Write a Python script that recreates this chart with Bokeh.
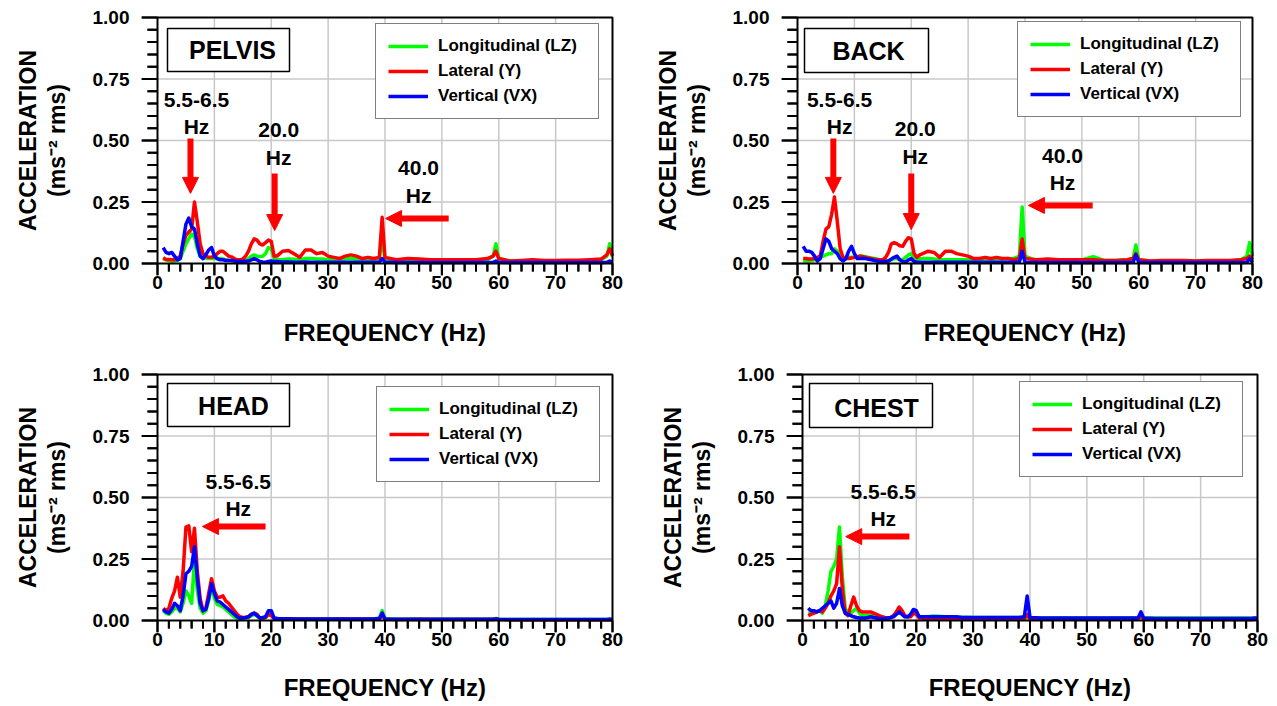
from bokeh.plotting import figure
from bokeh.models import (Range1d, SingleIntervalTicker, PrintfTickFormatter, Legend,
                          LegendItem, Label, BoxAnnotation, Arrow, NormalHead)
from bokeh.layouts import column, row
from bokeh.embed import file_html
from bokeh.resources import INLINE

FONT = "Liberation Sans"

# ---------------- data (frequency in Hz, acceleration in m/s^2 rms) ----------------
freq = [1.0, 1.5, 2.0, 2.5, 3.0, 3.5, 4.0, 4.5, 5.0, 5.5,
        6.0, 6.5, 7.0, 7.5, 8.0, 8.5, 9.0, 9.5, 10.0, 10.5,
        11.0, 11.5, 12.0, 12.5, 13.0, 13.5, 14.0, 14.5, 15.0, 15.5,
        16.0, 16.5, 17.0, 17.5, 18.0, 18.5, 19.0, 19.5, 20.0, 20.5,
        21.0, 21.5, 22.0,
        23, 24, 25, 26, 27, 28, 29, 30, 31, 32, 33, 34, 35, 36, 37, 38,
        39, 39.5, 40,
        42, 44, 46, 48, 50, 52, 54, 56, 58,
        59, 59.5, 60,
        62, 64, 66, 68, 70, 72, 74, 76, 78,
        79, 79.5, 80]

pelvis_lz = [0.020, 0.015, 0.012, 0.010, 0.010, 0.012, 0.020, 0.050, 0.080, 0.100,
             0.120, 0.110, 0.060, 0.030, 0.025, 0.022, 0.020, 0.020, 0.020, 0.020,
             0.020, 0.018, 0.015, 0.013, 0.012, 0.011, 0.010, 0.010, 0.010, 0.012,
             0.020, 0.030, 0.035, 0.030, 0.028, 0.030, 0.040, 0.065, 0.060, 0.020,
             0.015, 0.015, 0.015,
             0.018, 0.017, 0.015, 0.020, 0.020, 0.018, 0.018, 0.015, 0.015, 0.015, 0.018, 0.020, 0.018, 0.015, 0.015, 0.015,
             0.020, 0.100, 0.020,
             0.010, 0.010, 0.010, 0.010, 0.010, 0.010, 0.010, 0.010, 0.015,
             0.030, 0.080, 0.020,
             0.010, 0.010, 0.010, 0.010, 0.010, 0.010, 0.010, 0.010, 0.015,
             0.030, 0.080, 0.030]
pelvis_y = [0.023, 0.016, 0.016, 0.015, 0.015, 0.020, 0.030, 0.080, 0.114, 0.128,
            0.140, 0.250, 0.170, 0.080, 0.040, 0.030, 0.025, 0.025, 0.030, 0.040,
            0.050, 0.050, 0.040, 0.030, 0.027, 0.020, 0.015, 0.015, 0.018, 0.030,
            0.050, 0.080, 0.100, 0.095, 0.080, 0.075, 0.085, 0.095, 0.090, 0.030,
            0.030, 0.040, 0.050,
            0.053, 0.040, 0.025, 0.055, 0.055, 0.040, 0.045, 0.030, 0.025, 0.020, 0.030, 0.035, 0.030, 0.020, 0.025, 0.020,
            0.025, 0.188, 0.025,
            0.015, 0.020, 0.018, 0.015, 0.015, 0.015, 0.015, 0.015, 0.020,
            0.030, 0.050, 0.020,
            0.010, 0.012, 0.015, 0.012, 0.012, 0.013, 0.013, 0.015, 0.018,
            0.035, 0.060, 0.030]
pelvis_vx = [0.065, 0.045, 0.040, 0.045, 0.030, 0.015, 0.020, 0.090, 0.160, 0.185,
             0.150, 0.140, 0.080, 0.030, 0.020, 0.035, 0.055, 0.065, 0.030, 0.020,
             0.015, 0.015, 0.012, 0.012, 0.012, 0.010, 0.008, 0.008, 0.008, 0.009,
             0.010, 0.015, 0.020, 0.015, 0.008, 0.006, 0.005, 0.008, 0.010, 0.008,
             0.008, 0.007, 0.006,
             0.006, 0.005, 0.005, 0.006, 0.005, 0.005, 0.005, 0.005, 0.005, 0.005, 0.005, 0.005, 0.005, 0.005, 0.005, 0.005,
             0.006, 0.020, 0.006,
             0.004, 0.004, 0.004, 0.004, 0.004, 0.004, 0.004, 0.004, 0.004,
             0.005, 0.010, 0.005,
             0.004, 0.004, 0.004, 0.004, 0.004, 0.004, 0.004, 0.004, 0.004,
             0.005, 0.010, 0.005]

back_lz = [0.010, 0.010, 0.010, 0.012, 0.015, 0.020, 0.025, 0.030, 0.035, 0.040,
           0.040, 0.060, 0.050, 0.020, 0.015, 0.020, 0.025, 0.025, 0.025, 0.028,
           0.030, 0.030, 0.028, 0.025, 0.022, 0.020, 0.018, 0.015, 0.012, 0.012,
           0.012, 0.015, 0.020, 0.020, 0.015, 0.015, 0.025, 0.035, 0.040, 0.020,
           0.015, 0.018, 0.020,
           0.020, 0.018, 0.015, 0.015, 0.015, 0.015, 0.015, 0.015, 0.015, 0.015, 0.015, 0.015, 0.018, 0.018, 0.020, 0.020,
           0.030, 0.230, 0.030,
           0.012, 0.012, 0.012, 0.012, 0.015, 0.028, 0.012, 0.012, 0.015,
           0.020, 0.075, 0.015,
           0.010, 0.010, 0.010, 0.010, 0.010, 0.010, 0.010, 0.010, 0.015,
           0.030, 0.085, 0.030]
back_y = [0.020, 0.020, 0.018, 0.018, 0.020, 0.025, 0.030, 0.090, 0.140, 0.150,
          0.200, 0.270, 0.170, 0.060, 0.025, 0.020, 0.020, 0.022, 0.025, 0.028,
          0.030, 0.028, 0.025, 0.022, 0.020, 0.017, 0.015, 0.015, 0.015, 0.025,
          0.045, 0.080, 0.085, 0.080, 0.072, 0.070, 0.090, 0.105, 0.100, 0.040,
          0.025, 0.035, 0.040,
          0.050, 0.045, 0.025, 0.050, 0.050, 0.040, 0.035, 0.030, 0.020, 0.020, 0.025, 0.020, 0.025, 0.020, 0.020, 0.015,
          0.020, 0.100, 0.020,
          0.015, 0.018, 0.015, 0.015, 0.015, 0.015, 0.012, 0.012, 0.015,
          0.020, 0.040, 0.015,
          0.010, 0.012, 0.012, 0.012, 0.010, 0.012, 0.012, 0.012, 0.015,
          0.020, 0.030, 0.015]
back_vx = [0.070, 0.050, 0.050, 0.045, 0.030, 0.010, 0.020, 0.060, 0.100, 0.090,
           0.060, 0.050, 0.040, 0.020, 0.010, 0.020, 0.050, 0.070, 0.040, 0.020,
           0.020, 0.020, 0.020, 0.017, 0.015, 0.012, 0.010, 0.008, 0.008, 0.008,
           0.010, 0.018, 0.025, 0.030, 0.015, 0.008, 0.005, 0.015, 0.020, 0.008,
           0.005, 0.005, 0.005,
           0.005, 0.005, 0.005, 0.005, 0.005, 0.005, 0.005, 0.005, 0.005, 0.005, 0.005, 0.005, 0.005, 0.005, 0.005, 0.005,
           0.005, 0.050, 0.005,
           0.004, 0.004, 0.004, 0.004, 0.004, 0.004, 0.004, 0.004, 0.004,
           0.005, 0.035, 0.005,
           0.004, 0.004, 0.004, 0.004, 0.004, 0.004, 0.004, 0.004, 0.004,
           0.005, 0.020, 0.005]

head_lz = [0.040, 0.030, 0.025, 0.035, 0.050, 0.050, 0.035, 0.070, 0.120, 0.100,
           0.070, 0.250, 0.120, 0.050, 0.030, 0.040, 0.080, 0.140, 0.090, 0.065,
           0.060, 0.055, 0.045, 0.035, 0.025, 0.015, 0.010, 0.008, 0.008, 0.010,
           0.012, 0.020, 0.025, 0.018, 0.008, 0.010, 0.012, 0.030, 0.030, 0.008,
           0.007, 0.006, 0.006,
           0.007, 0.006, 0.006, 0.006, 0.006, 0.006, 0.006, 0.006, 0.006, 0.006, 0.006, 0.006, 0.006, 0.006, 0.006, 0.006,
           0.010, 0.040, 0.008,
           0.005, 0.005, 0.005, 0.005, 0.005, 0.005, 0.005, 0.005, 0.005,
           0.005, 0.008, 0.005,
           0.004, 0.004, 0.004, 0.004, 0.004, 0.004, 0.004, 0.004, 0.004,
           0.004, 0.005, 0.004]
head_y = [0.050, 0.040, 0.050, 0.090, 0.120, 0.176, 0.095, 0.200, 0.380, 0.385,
          0.280, 0.375, 0.200, 0.090, 0.040, 0.050, 0.110, 0.170, 0.120, 0.095,
          0.095, 0.100, 0.080, 0.070, 0.055, 0.040, 0.025, 0.015, 0.012, 0.013,
          0.015, 0.025, 0.030, 0.025, 0.010, 0.010, 0.012, 0.025, 0.020, 0.008,
          0.008, 0.007, 0.007,
          0.006, 0.006, 0.005, 0.005, 0.005, 0.005, 0.005, 0.005, 0.005, 0.006, 0.005, 0.005, 0.006, 0.005, 0.005, 0.005,
          0.006, 0.020, 0.005,
          0.004, 0.004, 0.005, 0.004, 0.004, 0.004, 0.004, 0.004, 0.004,
          0.004, 0.006, 0.004,
          0.003, 0.003, 0.003, 0.003, 0.003, 0.003, 0.003, 0.003, 0.003,
          0.003, 0.004, 0.003]
head_vx = [0.045, 0.035, 0.030, 0.045, 0.070, 0.060, 0.040, 0.100, 0.190, 0.200,
           0.220, 0.300, 0.170, 0.070, 0.040, 0.045, 0.090, 0.150, 0.110, 0.080,
           0.075, 0.065, 0.055, 0.045, 0.035, 0.025, 0.015, 0.010, 0.010, 0.012,
           0.015, 0.025, 0.030, 0.020, 0.010, 0.012, 0.015, 0.040, 0.040, 0.010,
           0.008, 0.007, 0.007,
           0.007, 0.006, 0.006, 0.006, 0.006, 0.006, 0.006, 0.006, 0.006, 0.006, 0.006, 0.006, 0.006, 0.006, 0.006, 0.006,
           0.008, 0.030, 0.006,
           0.005, 0.005, 0.005, 0.005, 0.005, 0.005, 0.005, 0.005, 0.005,
           0.005, 0.006, 0.005,
           0.004, 0.004, 0.004, 0.004, 0.004, 0.004, 0.004, 0.004, 0.004,
           0.004, 0.005, 0.004]

chest_lz = [0.030, 0.030, 0.030, 0.035, 0.040, 0.030, 0.060, 0.120, 0.200, 0.220,
            0.250, 0.380, 0.180, 0.050, 0.030, 0.030, 0.040, 0.050, 0.030, 0.020,
            0.020, 0.020, 0.020, 0.018, 0.015, 0.012, 0.010, 0.010, 0.010, 0.012,
            0.020, 0.030, 0.040, 0.030, 0.015, 0.015, 0.020, 0.035, 0.030, 0.015,
            0.015, 0.015, 0.015,
            0.018, 0.017, 0.015, 0.015, 0.014, 0.013, 0.013, 0.012, 0.012, 0.012, 0.012, 0.012, 0.012, 0.012, 0.012, 0.012,
            0.010, 0.012, 0.010,
            0.010, 0.010, 0.010, 0.010, 0.010, 0.010, 0.010, 0.010, 0.010,
            0.010, 0.012, 0.010,
            0.010, 0.010, 0.010, 0.010, 0.010, 0.010, 0.010, 0.010, 0.010,
            0.010, 0.010, 0.010]
chest_y = [0.020, 0.025, 0.030, 0.035, 0.040, 0.035, 0.050, 0.070, 0.100, 0.120,
           0.150, 0.300, 0.130, 0.030, 0.020, 0.060, 0.095, 0.060, 0.040, 0.035,
           0.035, 0.035, 0.035, 0.030, 0.025, 0.020, 0.015, 0.012, 0.010, 0.012,
           0.020, 0.035, 0.055, 0.040, 0.020, 0.015, 0.015, 0.030, 0.025, 0.010,
           0.010, 0.008, 0.008,
           0.008, 0.008, 0.007, 0.007, 0.007, 0.007, 0.007, 0.007, 0.007, 0.007, 0.007, 0.007, 0.007, 0.007, 0.007, 0.007,
           0.008, 0.025, 0.006,
           0.005, 0.005, 0.005, 0.005, 0.005, 0.005, 0.005, 0.005, 0.005,
           0.005, 0.020, 0.005,
           0.004, 0.004, 0.004, 0.004, 0.004, 0.004, 0.004, 0.004, 0.004,
           0.004, 0.006, 0.004]
chest_vx = [0.050, 0.040, 0.040, 0.035, 0.040, 0.050, 0.060, 0.070, 0.080, 0.050,
            0.070, 0.130, 0.060, 0.030, 0.025, 0.020, 0.015, 0.012, 0.010, 0.010,
            0.010, 0.012, 0.015, 0.012, 0.010, 0.008, 0.008, 0.008, 0.010, 0.012,
            0.015, 0.025, 0.035, 0.025, 0.015, 0.015, 0.025, 0.045, 0.040, 0.015,
            0.015, 0.015, 0.015,
            0.015, 0.015, 0.015, 0.015, 0.015, 0.012, 0.012, 0.012, 0.012, 0.012, 0.012, 0.012, 0.012, 0.012, 0.012, 0.012,
            0.015, 0.100, 0.012,
            0.010, 0.010, 0.010, 0.010, 0.010, 0.010, 0.010, 0.010, 0.010,
            0.010, 0.035, 0.010,
            0.008, 0.008, 0.008, 0.008, 0.008, 0.008, 0.008, 0.008, 0.008,
            0.008, 0.010, 0.008]

series_names = ["Longitudinal (LZ)", "Lateral (Y)", "Vertical (VX)"]
series_colors = ["#00ff00", "#ff0000", "#0000ff"]
x_tick_interval = 10
y_tick_interval = 0.25
x_minor_step = 2
y_minor_step = 0.05
X_MAX, Y_MAX = 80, 1.0

# ---------------- geometry ----------------
PX_PER_X = 455 / X_MAX          # pixels per Hz inside the plot box
PX_PER_Y = 246 / Y_MAX          # pixels per unit acceleration
X_MAJ_OUT, X_MIN_OUT = 12, 8    # tick lengths (px) below the x axis
Y_MAJ_OUT, Y_MIN_OUT = 16, 10   # tick lengths (px) left of the y axis

panels = [
    dict(name="PELVIS", data=(pelvis_lz, pelvis_y, pelvis_vx),
         w=650, h=361, bl=141, br=22, bt=5, bb=86, xstand=27,
         box=(26, 148, 247, 204), txt=(91, 225.5), leg=(234, 156),
         notes=[("5.5-6.5\nHz", 6.86, 0.612), ("20.0\nHz", 21.3, 0.487), ("40.0\nHz", 45.9, 0.333)],
         arrows=[(5.8, 0.508, 5.8, 0.285), (20.6, 0.366, 20.6, 0.134), (51.2, 0.183, 40.1, 0.183)]),
    dict(name="BACK", data=(back_lz, back_y, back_vx),
         w=627, h=361, bl=131, br=9, bt=5, bb=86, xstand=27,
         box=(23, 147, 247, 203), txt=(87, 225), leg=(236, 158),
         notes=[("5.5-6.5\nHz", 7.4, 0.612), ("20.0\nHz", 20.7, 0.492), ("40.0\nHz", 46.6, 0.384)],
         arrows=[(6.3, 0.508, 6.3, 0.285), (20.0, 0.366, 20.0, 0.138), (51.9, 0.236, 40.6, 0.236)]),
    dict(name="HEAD", data=(head_lz, head_y, head_vx),
         w=650, h=345, bl=141, br=22, bt=1, bb=74, xstand=25,
         box=(26, 148, 249, 206), txt=(92, 227), leg=(235, 150),
         notes=[("5.5-6.5\nHz", 14.2, 0.51)],
         arrows=[(19.0, 0.382, 7.9, 0.382)]),
    dict(name="CHEST", data=(chest_lz, chest_y, chest_vx),
         w=627, h=345, bl=136, br=4, bt=1, bb=74, xstand=25,
         box=(23, 146, 249, 205), txt=(90, 225), leg=(233, 155),
         notes=[("5.5-6.5\nHz", 14.2, 0.47)],
         arrows=[(18.8, 0.341, 7.6, 0.341)]),
]


def make_panel(s):
    x_pad = Y_MAJ_OUT / PX_PER_X
    y_pad = X_MAJ_OUT / PX_PER_Y
    p = figure(width=s["w"], height=s["h"],
               x_range=Range1d(-x_pad, X_MAX + x_pad),
               y_range=Range1d(-y_pad, Y_MAX + y_pad),
               output_backend="svg", toolbar_location=None,
               min_border_left=s["bl"], min_border_right=s["br"],
               min_border_top=s["bt"], min_border_bottom=s["bb"])
    p.background_fill_color = "white"
    p.border_fill_color = "white"
    p.outline_line_color = None
    p.xgrid.visible = False
    p.ygrid.visible = False

    xt = SingleIntervalTicker(interval=x_tick_interval, num_minor_ticks=5)
    yt = SingleIntervalTicker(interval=y_tick_interval, num_minor_ticks=5)
    xax = p.xaxis[0]
    yax = p.yaxis[0]
    xax.ticker = xt
    yax.ticker = yt
    yax.formatter = PrintfTickFormatter(format="%.2f")
    for ax in (xax, yax):
        ax.axis_line_color = None
        ax.major_tick_line_color = None
        ax.minor_tick_line_color = None
        ax.major_tick_in = 0
        ax.minor_tick_in = 0
        ax.major_tick_out = 0
        ax.minor_tick_out = 0
        ax.major_label_text_font = FONT
        ax.major_label_text_font_style = "bold"
        ax.major_label_text_font_size = "19px"
        ax.major_label_text_color = "black"
        ax.axis_label_text_font = FONT
        ax.axis_label_text_font_style = "bold"
        ax.axis_label_text_color = "black"

    xax.major_label_standoff = 0
    xax.axis_label = "FREQUENCY (Hz)"
    xax.axis_label_text_font_size = "24px"
    xax.axis_label_standoff = s["xstand"]

    yax.major_label_standoff = 12
    yax.axis_label = "ACCELERATION\n(ms\u207b\u00b2 rms)"
    yax.axis_label_text_font_size = "23px"
    yax.axis_label_text_line_height = 1.1
    yax.axis_label_standoff = 20

    # grid lines inside the plot box
    gx = [x_tick_interval * i for i in range(1, int(X_MAX / x_tick_interval))]
    gy = [y_tick_interval * j for j in range(1, int(round(Y_MAX / y_tick_interval)))]
    p.segment(x0=gx, y0=[0] * len(gx), x1=gx, y1=[Y_MAX] * len(gx),
              line_color="#c8c8c8", line_width=1.5)
    p.segment(x0=[0] * len(gy), y0=gy, x1=[X_MAX] * len(gy), y1=gy,
              line_color="#c8c8c8", line_width=1.5)

    renderers = []
    for vals, col in zip(s["data"], series_colors):
        r = p.line(freq, vals, line_color=col, line_width=3.5, line_join="round")
        renderers.append(r)

    # frame box
    p.quad(left=[0], right=[X_MAX], bottom=[0], top=[Y_MAX],
           fill_color=None, line_color="black", line_width=2)

    # tick marks (filled thin blocks plus stroked segments)
    n_x = int(round(X_MAX / x_minor_step))
    per_x = int(round(x_tick_interval / x_minor_step))
    tx = [i * x_minor_step for i in range(n_x + 1)]
    tlen = [(X_MAJ_OUT if i % per_x == 0 else X_MIN_OUT) / PX_PER_Y for i in range(n_x + 1)]
    p.block(x=[v - 1 / PX_PER_X for v in tx], y=[-L for L in tlen],
            width=2 / PX_PER_X, height=tlen, fill_color="black", line_color=None)
    p.segment(x0=tx, y0=[0] * len(tx), x1=tx, y1=[-L for L in tlen],
              line_color="black", line_width=2)
    n_y = int(round(Y_MAX / y_minor_step))
    per_y = int(round(y_tick_interval / y_minor_step))
    ty = [j * y_minor_step for j in range(n_y + 1)]
    tl2 = [(Y_MAJ_OUT if j % per_y == 0 else Y_MIN_OUT) / PX_PER_X for j in range(n_y + 1)]
    p.block(x=[-L for L in tl2], y=[v - 1 / PX_PER_Y for v in ty],
            width=tl2, height=2 / PX_PER_Y, fill_color="black", line_color=None)
    p.segment(x0=[0] * len(ty), y0=ty, x1=[-L for L in tl2], y1=ty,
              line_color="black", line_width=2)

    legend = Legend(items=[LegendItem(label=n, renderers=[r]) for n, r in zip(series_names, renderers)],
                    location=s["leg"], orientation="vertical",
                    label_text_font=FONT, label_text_font_style="bold", label_text_font_size="17px",
                    label_text_color="black",
                    glyph_width=40, glyph_height=20, label_height=20, label_standoff=10,
                    label_width=148, spacing=5, padding=12, margin=0,
                    border_line_color="black", border_line_width=1.5,
                    background_fill_color="white", background_fill_alpha=1.0)
    p.add_layout(legend)

    l, r_, t, b = s["box"]
    p.add_layout(BoxAnnotation(left=l, right=r_, top=t, bottom=b,
                               left_units="screen", right_units="screen",
                               top_units="screen", bottom_units="screen",
                               fill_color="white", fill_alpha=1.0,
                               line_color="black", line_width=1.5, line_alpha=1.0))
    p.add_layout(Label(x=s["txt"][0], y=s["txt"][1], x_units="screen", y_units="screen",
                       text=s["name"], text_font=FONT, text_font_style="bold",
                       text_font_size="25px", text_align="center", text_baseline="middle",
                       text_color="black"))

    for txt, x, y in s["notes"]:
        p.add_layout(Label(x=x, y=y, text=txt, text_font=FONT, text_font_style="bold",
                           text_font_size="21px", text_align="center", text_baseline="middle",
                           text_line_height=1.2, text_color="black"))

    for x0, y0, x1, y1 in s["arrows"]:
        p.add_layout(Arrow(end=NormalHead(size=16, fill_color="#ff0000", line_color="#ff0000",
                                          line_width=1),
                           x_start=x0, y_start=y0, x_end=x1, y_end=y1,
                           line_color="#ff0000", line_width=6))
    return p


figs = [make_panel(s) for s in panels]
layout = column(row(figs[0], figs[1]), row(figs[2], figs[3]))

open("out.html", "w").write(file_html(layout, INLINE))
